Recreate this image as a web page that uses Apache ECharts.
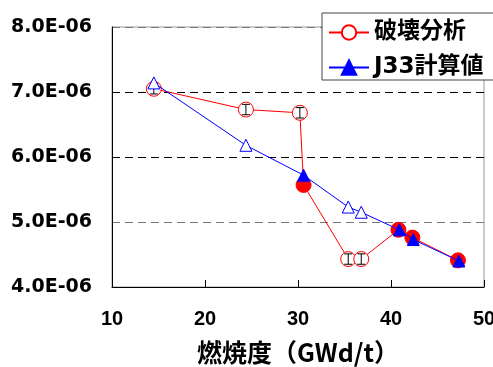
<!DOCTYPE html>
<html>
<head>
<meta charset="utf-8">
<script src="https://cdn.jsdelivr.net/npm/echarts@6/dist/echarts.min.js"></script>
<style>
  html, body { margin: 0; padding: 0; background: #fff; }
  #chart { width: 493px; height: 367px; }
</style>
</head>
<body>
<div id="chart"></div>
<script>
// values on the y axis are in units of 1E-06
var redX = [14.5, 24.4, 30.2, 30.6, 35.4, 36.8, 40.8, 42.3, 47.2];
var redY = [7.05, 6.73, 6.68, 5.57, 4.43, 4.43, 4.88, 4.76, 4.41];
var redFilled = [false, false, false, true, false, false, true, true, true];
var redErr = [0.08, 0.08, 0.08, 0, 0.08, 0.08, 0, 0, 0];

var blueX = [14.5, 24.4, 30.6, 35.4, 36.8, 40.9, 42.4, 47.3];
var blueY = [7.14, 6.18, 5.72, 5.23, 5.15, 4.88, 4.73, 4.40];
var blueFilled = [false, false, true, false, false, true, true, true];

var xTicks = [10, 20, 30, 40, 50];
var yTicks = [4, 5, 6, 7, 8];

var RED = "#ff0000";
var BLUE = "#0000ff";

var redData = redX.map((x, i) => ({
  value: [x, redY[i]],
  itemStyle: redFilled[i] ? { color: RED } : { color: "#fff" },
}));

var blueData = blueX.map((x, i) => ({
  value: [x, blueY[i]],
  itemStyle: blueFilled[i] ? { color: BLUE } : { color: "#fff" },
}));

var errData = redX
  .map((x, i) => [x, redY[i] - redErr[i], redY[i] + redErr[i]])
  .filter((d, i) => redErr[i] > 0);

var chart = echarts.init(document.getElementById("chart"));

chart.setOption({
  backgroundColor: "#fff",
  animation: false,
  grid: {
    left: 112,
    top: 27,
    right: 9,
    bottom: 80,
    outerBoundsMode: "none",
    show: true,
    borderColor: "#999",
    borderWidth: 1,
  },
  legend: {
    orient: "vertical",
    left: 322,
    top: 13,
    padding: [8, 40, 1, 6],
    itemGap: 12,
    itemWidth: 40,
    itemHeight: 18,
    backgroundColor: "#fff",
    borderColor: "#444",
    borderWidth: 1,
    textStyle: {
      fontSize: 23,
      fontWeight: "bold",
      color: "#000",
      fontFamily: "DejaVu Sans, Noto Sans CJK JP",
    },
    data: ["破壊分析", "J33計算値"],
  },
  xAxis: {
    type: "value",
    min: xTicks[0],
    max: xTicks[xTicks.length - 1],
    interval: 10,
    name: "燃焼度（GWd/t）",
    nameLocation: "middle",
    nameGap: 53,
    nameTextStyle: {
      fontSize: 25,
      fontWeight: "bold",
      color: "#000",
      fontFamily: "Noto Sans CJK JP",
    },
    axisLine: { lineStyle: { color: "#000", width: 1 } },
    axisTick: { inside: true, length: 7, lineStyle: { color: "#000" } },
    axisLabel: {
      margin: 22,
      fontSize: 20,
      fontWeight: "bold",
      color: "#000",
      fontFamily: "Liberation Sans",
    },
    splitLine: { show: false },
  },
  yAxis: {
    type: "value",
    min: yTicks[0],
    max: yTicks[yTicks.length - 1],
    interval: 1,
    axisLine: { show: true, lineStyle: { color: "#000", width: 1 } },
    axisTick: { show: false },
    axisLabel: {
      margin: 20,
      fontSize: 19,
      fontWeight: "bold",
      color: "#000",
      fontFamily: "DejaVu Sans",
      padding: [3, 0, 0, 0],
      formatter: (v) => v.toFixed(1) + "E-06",
    },
    splitLine: {
      show: true,
      lineStyle: {
        type: [8, 5],
        color: ["#000", "#777", "#000", "#000", "#777"],
        width: 1,
      },
    },
  },
  series: [
    {
      name: "破壊分析",
      type: "line",
      z: 2,
      symbol: "circle",
      symbolSize: 15,
      lineStyle: { color: RED, width: 1 },
      itemStyle: { color: "#fff", borderColor: RED, borderWidth: 1 },
      data: redData,
    },
    {
      name: "err",
      type: "custom",
      z: 3,
      renderItem: function (params, api) {
        var lo = api.coord([api.value(0), api.value(1)]);
        var hi = api.coord([api.value(0), api.value(2)]);
        var w = 4;
        return {
          type: "group",
          children: [
            { type: "line", shape: { x1: lo[0], y1: lo[1], x2: hi[0], y2: hi[1] }, style: { stroke: "#000", lineWidth: 1 } },
            { type: "line", shape: { x1: lo[0] - w, y1: lo[1], x2: lo[0] + w, y2: lo[1] }, style: { stroke: "#000", lineWidth: 1 } },
            { type: "line", shape: { x1: hi[0] - w, y1: hi[1], x2: hi[0] + w, y2: hi[1] }, style: { stroke: "#000", lineWidth: 1 } },
          ],
        };
      },
      encode: { x: 0, y: [1, 2] },
      data: errData,
    },
    {
      name: "J33計算値",
      type: "line",
      z: 4,
      symbol: "triangle",
      symbolSize: [12, 12],
      lineStyle: { color: BLUE, width: 1 },
      itemStyle: { color: BLUE, borderColor: BLUE, borderWidth: 1 },
      data: blueData,
    },
  ],
});
</script>
</body>
</html>
